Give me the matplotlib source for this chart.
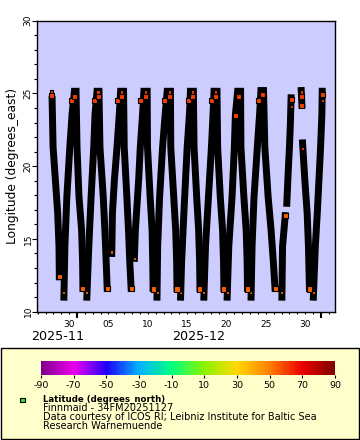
import matplotlib
matplotlib.use("Agg")
import numpy as np
import pandas as pd
import matplotlib.pyplot as plt
import matplotlib.dates as mdates
from matplotlib.colors import LinearSegmentedColormap, Normalize
from matplotlib.cm import ScalarMappable
from matplotlib.patches import Rectangle

plt.rcParams['font.family'] = ['DejaVu Sans']
plt.rcParams['axes.unicode_minus'] = False

# Finnmaid track, continuous stretches of the record (time, longitude)
leg01_t = ["2025-11-27 20:00", "2025-11-27 23:00", "2025-11-28 06:00", "2025-11-28 13:00",
           "2025-11-28 17:00", "2025-11-28 18:00"]
leg01_lon = [24.6, 21.3, 19.05, 16.8, 14.5, 12.4]

leg02_t = ["2025-11-29 08:00", "2025-11-29 11:00", "2025-11-29 17:00", "2025-11-30 02:00",
           "2025-11-30 09:00", "2025-11-30 16:00", "2025-11-30 21:00", "2025-12-01 00:00",
           "2025-12-01 06:00", "2025-12-01 14:00", "2025-12-01 17:00", "2025-12-01 18:00"]
leg02_lon = [11.0, 14.5, 17.9, 21.3, 23.6, 25.15, 25.15, 21.3, 17.9, 15.6, 13.4, 11.6]

leg03_t = ["2025-12-02 06:00", "2025-12-02 12:00", "2025-12-02 19:00", "2025-12-03 03:00",
           "2025-12-03 07:00", "2025-12-03 13:00", "2025-12-03 19:00", "2025-12-03 22:00",
           "2025-12-04 08:00", "2025-12-04 13:00", "2025-12-04 17:00", "2025-12-04 20:00"]
leg03_lon = [11.0, 14.5, 17.9, 21.3, 23.6, 25.15, 25.15, 21.3, 17.9, 15.6, 13.4, 11.6]

leg04_t = ["2025-12-05 10:00", "2025-12-05 12:00", "2025-12-05 18:00", "2025-12-06 02:00",
           "2025-12-06 09:00", "2025-12-06 13:00", "2025-12-06 22:00", "2025-12-07 00:00",
           "2025-12-07 08:00", "2025-12-07 13:00", "2025-12-07 17:00", "2025-12-07 21:00"]
leg04_lon = [14.0, 16.76, 19.05, 21.3, 23.6, 25.15, 25.15, 21.3, 17.9, 15.6, 13.4, 11.6]

leg05_t = ["2025-12-08 07:00", "2025-12-08 10:00", "2025-12-08 20:00", "2025-12-09 01:00",
           "2025-12-09 08:00", "2025-12-09 12:00", "2025-12-09 22:00", "2025-12-09 23:00",
           "2025-12-10 07:00", "2025-12-10 13:00", "2025-12-10 15:00", "2025-12-10 16:00"]
leg05_lon = [13.67, 15.6, 19.05, 21.3, 23.6, 25.15, 25.15, 21.3, 17.9, 15.6, 13.4, 11.6]

leg06_t = ["2025-12-11 04:00", "2025-12-11 06:00", "2025-12-11 12:00", "2025-12-11 21:00",
           "2025-12-12 05:00", "2025-12-12 11:00", "2025-12-12 21:00", "2025-12-12 22:00",
           "2025-12-13 07:00", "2025-12-13 13:00", "2025-12-13 16:00", "2025-12-13 17:00"]
leg06_lon = [11.0, 14.5, 17.9, 21.3, 23.6, 25.15, 25.15, 21.3, 17.9, 15.6, 13.4, 11.6]

leg07_t = ["2025-12-14 04:00", "2025-12-14 07:00", "2025-12-14 14:00", "2025-12-15 00:00",
           "2025-12-15 07:00", "2025-12-15 10:00", "2025-12-15 19:00", "2025-12-15 21:00",
           "2025-12-16 05:00", "2025-12-16 11:00", "2025-12-16 14:00", "2025-12-16 15:00"]
leg07_lon = [11.0, 13.4, 16.8, 21.3, 23.6, 25.15, 25.15, 21.3, 17.9, 15.6, 13.4, 11.6]

leg08_t = ["2025-12-17 03:00", "2025-12-17 08:00", "2025-12-17 17:00", "2025-12-18 02:00",
           "2025-12-18 07:00", "2025-12-18 10:00", "2025-12-18 19:00", "2025-12-18 21:00",
           "2025-12-19 05:00", "2025-12-19 12:00", "2025-12-19 15:00", "2025-12-19 16:00"]
leg08_lon = [11.0, 14.5, 17.9, 21.3, 23.6, 25.15, 25.15, 21.3, 17.9, 15.6, 13.4, 11.6]

leg09_t = ["2025-12-20 02:00", "2025-12-20 07:00", "2025-12-20 17:00", "2025-12-21 00:00",
           "2025-12-21 03:00", "2025-12-21 10:00", "2025-12-21 19:00", "2025-12-21 20:00",
           "2025-12-22 05:00", "2025-12-22 12:00", "2025-12-22 15:00", "2025-12-22 16:00"]
leg09_lon = [11.0, 14.5, 17.9, 21.3, 23.5, 25.15, 25.15, 21.3, 17.9, 15.6, 13.4, 11.6]

leg10_t = ["2025-12-23 03:00", "2025-12-23 06:00", "2025-12-23 12:00", "2025-12-23 22:00",
           "2025-12-24 05:00", "2025-12-24 09:00", "2025-12-24 17:00", "2025-12-24 21:00",
           "2025-12-25 07:00", "2025-12-25 16:00", "2025-12-25 23:00", "2025-12-26 04:00"]
leg10_lon = [11.0, 14.5, 17.9, 21.3, 23.6, 25.2, 25.2, 21.3, 17.9, 15.6, 13.4, 11.6]

leg11_t = ["2025-12-27 01:00", "2025-12-27 03:00", "2025-12-27 10:00", "2025-12-27 11:00"]
leg11_lon = [11.0, 14.5, 16.3, 16.6]

leg12_t = ["2025-12-27 16:00", "2025-12-27 20:00", "2025-12-28 00:00", "2025-12-28 03:00",
           "2025-12-28 05:00"]
leg12_lon = [17.45, 19.5, 21.3, 23.0, 24.7]

leg13_t = ["2025-12-29 12:00", "2025-12-29 14:00"]
leg13_lon = [25.2, 24.2]

leg14_t = ["2025-12-29 16:00", "2025-12-29 23:00", "2025-12-30 06:00", "2025-12-30 10:00",
           "2025-12-30 13:00"]
leg14_lon = [21.6, 19.05, 16.8, 14.5, 11.6]

leg15_t = ["2025-12-31 01:00", "2025-12-31 07:00", "2025-12-31 13:00", "2025-12-31 18:00",
           "2025-12-31 23:00", "2026-01-01 03:00", "2026-01-01 04:00"]
leg15_lon = [11.0, 14.5, 16.8, 19.05, 21.3, 23.6, 25.15]

# points left uncovered on top of the track (colour = latitude)
pt_t = ["2025-11-27 19:00", "2025-11-28 18:00",
        "2025-11-30 07:00", "2025-11-30 17:00", "2025-12-01 18:00",
        "2025-12-03 06:00", "2025-12-03 18:00", "2025-12-04 20:00",
        "2025-12-06 04:00", "2025-12-06 16:00", "2025-12-07 21:00",
        "2025-12-09 03:00", "2025-12-09 18:00", "2025-12-10 16:00",
        "2025-12-12 02:00", "2025-12-12 17:00", "2025-12-13 17:00",
        "2025-12-15 03:00", "2025-12-15 15:00", "2025-12-16 15:00",
        "2025-12-18 02:00", "2025-12-18 15:00", "2025-12-19 16:00",
        "2025-12-21 03:00", "2025-12-21 14:00", "2025-12-22 16:00",
        "2025-12-24 02:00", "2025-12-24 14:00", "2025-12-26 04:00",
        "2025-12-27 11:00", "2025-12-28 05:00",
        "2025-12-29 13:00", "2025-12-29 14:00", "2025-12-30 13:00",
        "2026-01-01 04:00"]
pt_lon = [24.85, 12.4,
          24.5, 24.78, 11.6,
          24.5, 24.78, 11.6,
          24.5, 24.78, 11.6,
          24.5, 24.78, 11.56,
          24.5, 24.78, 11.56,
          24.5, 24.78, 11.56,
          24.5, 24.78, 11.56,
          23.5, 24.78, 11.56,
          24.5, 24.9, 11.6,
          16.6, 24.6,
          24.8, 24.2, 11.56,
          24.96]
pt_lat = [60.0, 54.5,
          59.9, 60.0, 54.2,
          59.9, 60.0, 54.2,
          59.9, 60.0, 54.2,
          59.9, 60.0, 54.2,
          59.9, 60.0, 54.2,
          59.9, 60.0, 54.2,
          59.9, 60.0, 54.2,
          59.5, 60.0, 54.2,
          59.9, 60.0, 54.2,
          55.5, 59.9,
          60.0, 59.8, 54.2,
          60.1]

# points mostly hidden under their neighbours
dash_t = ["2025-11-27 19:00", "2025-11-29 08:00", "2025-12-02 06:00", "2025-12-03 16:00",
          "2025-12-05 10:00", "2025-12-06 16:00", "2025-12-08 07:00", "2025-12-09 18:00",
          "2025-12-11 05:00", "2025-12-12 17:00", "2025-12-14 05:00", "2025-12-15 15:00",
          "2025-12-17 03:00", "2025-12-18 15:00", "2025-12-20 02:00", "2025-12-23 02:00",
          "2025-12-27 01:00", "2025-12-28 05:00", "2025-12-29 12:00", "2025-12-29 16:00",
          "2025-12-31 01:00", "2026-01-01 04:00"]
dash_lon = [25.1, 11.35, 11.35, 25.1,
            14.1, 25.1, 13.67, 25.1,
            11.3, 25.1, 11.35, 25.1,
            11.35, 25.1, 11.3, 11.35,
            11.35, 24.1, 25.1, 21.2,
            11.35, 24.5]
dash_lat = [60.1, 54.1, 54.1, 60.1,
            54.9, 60.1, 54.9, 60.1,
            54.1, 60.1, 54.1, 60.1,
            54.1, 60.1, 54.1, 54.1,
            54.1, 59.8, 60.1, 58.5,
            54.1, 59.9]

cbar_ticks = [-90, -70, -50, -30, -10, 10, 30, 50, 70, 90]
x_range = ["2025-11-25 21:00", "2026-01-02 19:00"]
y_ticks = [10, 15, 20, 25, 30]

legs = [(leg01_t, leg01_lon), (leg02_t, leg02_lon), (leg03_t, leg03_lon), (leg04_t, leg04_lon),
        (leg05_t, leg05_lon), (leg06_t, leg06_lon), (leg07_t, leg07_lon), (leg08_t, leg08_lon),
        (leg09_t, leg09_lon), (leg10_t, leg10_lon), (leg11_t, leg11_lon), (leg12_t, leg12_lon),
        (leg13_t, leg13_lon), (leg14_t, leg14_lon), (leg15_t, leg15_lon)]

# ERDDAP style rainbow
cmap = LinearSegmentedColormap.from_list("erd", [
    (0.50, 0.00, 0.55), (0.93, 0.00, 0.93), (0.13, 0.00, 1.00), (0.00, 0.70, 1.00),
    (0.00, 1.00, 0.50), (0.55, 0.95, 0.00), (1.00, 0.85, 0.00), (1.00, 0.50, 0.00),
    (0.93, 0.00, 0.00), (0.50, 0.00, 0.00)])
norm = Normalize(-90, 90)

W, H = 360, 440
fig = plt.figure(figsize=(W / 100, H / 100), dpi=100)
fig.patch.set_facecolor('white')

def fx(px):
    return px / W

def fy(py):
    return 1 - py / H

ax = fig.add_axes([fx(36.7), fy(311.7), fx(335) - fx(36.7), fy(20.7) - fy(311.7)])
ax.set_facecolor('#ccccff')

for t, lon in legs:
    ax.plot(pd.to_datetime(t), lon, color='black', lw=5.0,
            solid_capstyle='projecting', solid_joinstyle='miter', zorder=2)

ax.scatter(pd.to_datetime(dash_t), dash_lon, c=dash_lat, cmap=cmap, norm=norm,
           marker='s', s=5, edgecolors='black', linewidths=0.8, zorder=3)
ax.scatter(pd.to_datetime(pt_t), pt_lon, c=pt_lat, cmap=cmap, norm=norm,
           marker='s', s=13, edgecolors='black', linewidths=0.8, zorder=4)

ax.set_xlim(pd.to_datetime(x_range))
ax.set_ylim(10, 30)
ax.set_yticks(y_ticks)
ax.yaxis.set_minor_locator(plt.MultipleLocator(1))
ax.tick_params(axis='y', which='major', length=3.6, width=0.8, labelsize=6.5, pad=0.8)
ax.tick_params(axis='y', which='minor', length=2.2, width=0.8)
plt.setp(ax.get_yticklabels(), rotation=90, rotation_mode='anchor')
for lab in ax.get_yticklabels():
    lab.set_ha('center')
    lab.set_va('baseline')

ax.xaxis.set_major_locator(mdates.MonthLocator())
ax.xaxis.set_major_formatter(plt.NullFormatter())
ax.xaxis.set_minor_locator(mdates.DayLocator())
ax.xaxis.set_minor_formatter(plt.FuncFormatter(
    lambda v, p: mdates.num2date(v).strftime('%d') if mdates.num2date(v).day % 5 == 0 else ''))
ax.tick_params(axis='x', which='major', length=4.2, width=1.5, pad=4)
ax.tick_params(axis='x', which='minor', length=1.7, width=0.8, labelsize=6.5, pad=4)
for s in ax.spines.values():
    s.set_linewidth(1.0)

fig.text(fx(12.5), fy(166), 'Longitude (degrees_east)', rotation=90,
         ha='center', va='center', fontsize=8.8)
fig.text(fx(58), fy(337), '2025-11', ha='center', va='center', fontsize=9.2)
fig.text(fx(199), fy(337), '2025-12', ha='center', va='center', fontsize=9.2)

# legend box
fig.add_artist(Rectangle((fx(0.5), fy(438.7)), fx(358.7) - fx(0.5), fy(348.3) - fy(438.7),
                         transform=fig.transFigure, facecolor='#ffffcc',
                         edgecolor='black', lw=1.0, zorder=0))

cax = fig.add_axes([fx(41), fy(375), fx(335) - fx(41), fy(360.7) - fy(375)])
cb = fig.colorbar(ScalarMappable(norm=norm, cmap=cmap), cax=cax,
                  orientation='horizontal', ticks=cbar_ticks)
cb.outline.set_visible(False)
cax.tick_params(labelsize=6.8, length=2.5, width=0.8, pad=1.5)

fig.add_artist(Rectangle((fx(20), fy(402.3)), fx(24.5) - fx(20), fy(397.7) - fy(402.3),
                         transform=fig.transFigure, facecolor='#3fe03f',
                         edgecolor='black', lw=0.8))
fig.text(fx(42.7), fy(399.5), 'Latitude (degrees_north)', ha='left', va='center',
         fontsize=6.2, fontweight='bold')
fig.text(fx(42.7), fy(408.3), 'Finnmaid - 34FM20251127', ha='left', va='center', fontsize=7.0)
fig.text(fx(42.7), fy(417.3), 'Data courtesy of ICOS RI; Leibniz Institute for Baltic Sea',
         ha='left', va='center', fontsize=7.0)
fig.text(fx(42.7), fy(426.0), 'Research Warnemuende', ha='left', va='center', fontsize=7.0)

fig.savefig('out.png', dpi=100)
